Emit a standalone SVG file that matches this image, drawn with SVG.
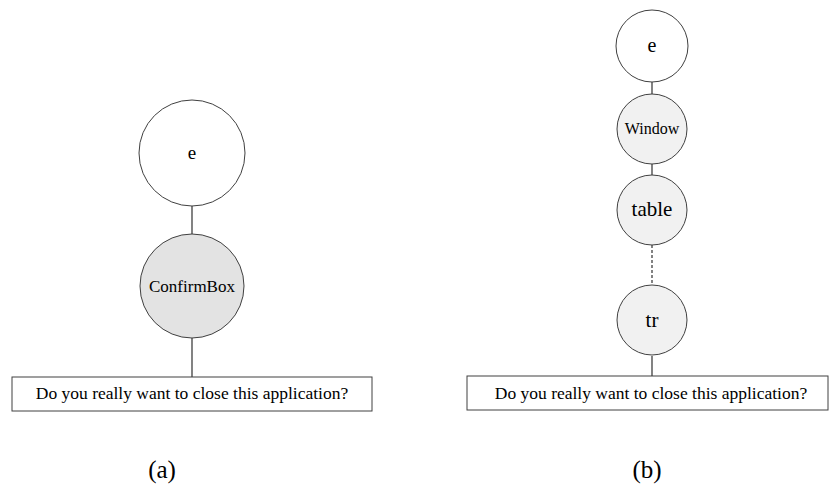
<svg xmlns="http://www.w3.org/2000/svg" width="830" height="493" viewBox="0 0 830 493">
  <style>
    .node { stroke: #404040; stroke-width: 1; }
    .plain { fill: #ffffff; }
    .shaded { fill: #e3e3e3; }
    .light { fill: #f1f1f1; }
    .edge { stroke: #303030; stroke-width: 1.2; fill: none; }
    .dashed { stroke-dasharray: 3 2; }
    .box { fill: #ffffff; stroke: #404040; stroke-width: 1; }
    .lbl { fill: #000; text-anchor: middle; }
  </style>
  <rect width="830" height="493" fill="#ffffff"/>

  <!-- connectors -->
  <g id="connectors">
    <line class="edge" x1="192" y1="204" x2="192" y2="235"/>
    <line class="edge" x1="192" y1="338" x2="192" y2="377"/>
    <line class="edge" x1="652" y1="82" x2="652" y2="94"/>
    <line class="edge" x1="652" y1="164" x2="652" y2="175"/>
    <line class="edge dashed" x1="652" y1="245" x2="652" y2="285"/>
    <line class="edge" x1="652" y1="356" x2="652" y2="376"/>
  </g>

  <g font-family="'Liberation Serif', 'DejaVu Serif', serif">
  <!-- (a) -->
  <g id="a-e">
    <circle class="node plain" cx="192" cy="153" r="53"/>
    <text class="lbl" x="192" y="159" font-size="19">e</text>
  </g>
  <g id="a-confirmbox">
    <circle class="node shaded" cx="192" cy="286" r="52"/>
    <text class="lbl" x="192" y="292" font-size="17">ConfirmBox</text>
  </g>
  <g id="a-message">
    <rect class="box" x="12" y="377" width="360" height="34"/>
    <text class="lbl" x="192" y="399" font-size="17.5">Do you really want to close this application?</text>
  </g>
  <text class="lbl" x="162" y="478" font-size="25">(a)</text>

  <!-- (b) -->
  <g id="b-e">
    <circle class="node plain" cx="652" cy="46" r="36"/>
    <text class="lbl" x="652" y="52" font-size="20">e</text>
  </g>
  <g id="b-window">
    <circle class="node light" cx="652" cy="129" r="35"/>
    <text class="lbl" x="652" y="134" font-size="16">Window</text>
  </g>
  <g id="b-table">
    <circle class="node light" cx="652" cy="210" r="35"/>
    <text class="lbl" x="652" y="216" font-size="21">table</text>
  </g>
  <g id="b-tr">
    <circle class="node light" cx="652" cy="320" r="35"/>
    <text class="lbl" x="652" y="327" font-size="21">tr</text>
  </g>
  <g id="b-message">
    <rect class="box" x="467" y="376" width="361" height="34"/>
    <text class="lbl" x="651" y="399" font-size="17.5">Do you really want to close this application?</text>
  </g>
  <text class="lbl" x="647" y="478" font-size="25">(b)</text>
  </g>
</svg>
